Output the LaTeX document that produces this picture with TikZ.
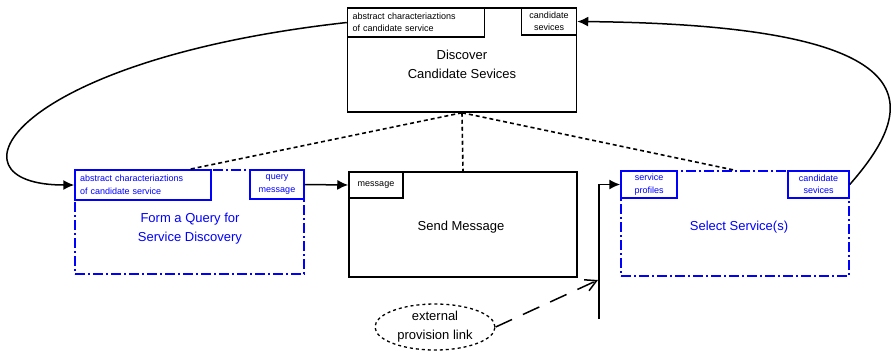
\documentclass[tikz,border=0pt]{standalone}
\usepackage{fontspec}
\setmainfont{Liberation Sans}
\usetikzlibrary{arrows.meta}
\usetikzlibrary{shapes.geometric}
\definecolor{qblue}{RGB}{0,0,255}
\tikzset{fwd/.style = {-{Latex[length=11pt,width=10pt]}}}
\tikzset{barb/.style = {-{Straight Barb[length=11pt,width=12pt]}}}
\tikzset{proc/.style = {draw, line width=1.5pt, minimum width=229pt, minimum height=104pt, inner sep=0}}
\tikzset{qproc/.style = {proc, qblue, dash pattern=on 10pt off 3pt on 2pt off 3pt}}
\tikzset{port/.style = {draw, line width=1.5pt, inner sep=0, align=center,
                        font=\fontsize{9}{12.5}\selectfont, minimum height=28pt}}
\tikzset{qport/.style = {port, qblue}}
\tikzset{lbl/.style = {align=center, font=\fontsize{13}{19}\selectfont}}
\tikzset{link/.style = {line width=1.5pt}}
\tikzset{dots/.style = {line width=1.6pt, dash pattern=on 4pt off 3pt}}

\begin{document}
\begin{tikzpicture}[x=1pt, y=-1pt]
      \useasboundingbox (0, 0) rectangle (891, 360);

      \node [proc] (disc) at (462, 60) {};
      \node [qproc] (form) at (189.5, 222) {};
      \node [proc, minimum width=228pt, minimum height=105pt] (send) at (463, 224.5) {};
      \node [qproc, minimum width=228pt, minimum height=105pt] (sel) at (735, 223.5) {};

      \node [port, anchor=north west, align=left, text width=127pt, inner xsep=5pt,
             minimum height=29pt] (dlp) at (disc.north west)
            {abstract characteriaztions\\of candidate service};
      \node [port, anchor=north east, minimum width=55pt, minimum height=27pt] (drp)
            at (disc.north east) {candidate\\sevices};
      \node [qport, anchor=north west, align=left, text width=126pt, inner xsep=5pt,
             minimum height=30pt] (flp) at (form.north west)
            {abstract characteriaztions\\of candidate service};
      \node [qport, anchor=north east, minimum width=54pt, minimum height=29pt] (frp)
            at (form.north east) {query\\message};
      \node [port, anchor=north west, minimum width=54pt, minimum height=26pt] (smp)
            at (send.north west) {message};
      \node [qport, anchor=north west, minimum width=56pt, minimum height=27pt] (slp)
            at (sel.north west) {service\\profiles};
      \node [qport, anchor=north east, minimum width=61pt, minimum height=27pt] (srp)
            at (sel.north east) {candidate\\sevices};

      \node [lbl] (discl) at (462, 64.5) {Discover\\Candidate Sevices};
      \node [lbl, qblue] (forml) at (190, 229) {Form a Query for\\Service Discovery};
      \node [lbl] (sendl) at (461, 227) {Send Message};
      \node [lbl, qblue] (sell) at (739, 227) {Select Service(s)};

      \node [lbl, ellipse, draw, line width=1.3pt, dash pattern=on 3pt off 3pt,
             minimum width=120pt, minimum height=46pt, inner sep=0] (prov) at (435, 327)
            {external\\provision link};

      \draw [dots] (disc.south) -- (form.north);
      \draw [dots] (disc.south) -- (send.north);
      \draw [dots] (disc.south) -- (sel.north);

      \draw [link, fwd] (dlp.west) .. controls (10, 60) and (-60, 185) .. (flp.west);
      \draw [link, fwd] (srp.east) .. controls (915, 110) and (945, 25) .. (drp.east);
      \draw [link, fwd] (frp.east) -- (smp.west);

      \coordinate (feed) at (599, 319);
      \coordinate (hit) at (598, 280);
      \draw [link, fwd] (feed) |- (slp.west);
      \draw [link, barb, dash pattern=on 18pt off 12pt] (prov.east) -- (hit);
\end{tikzpicture}
\end{document}
